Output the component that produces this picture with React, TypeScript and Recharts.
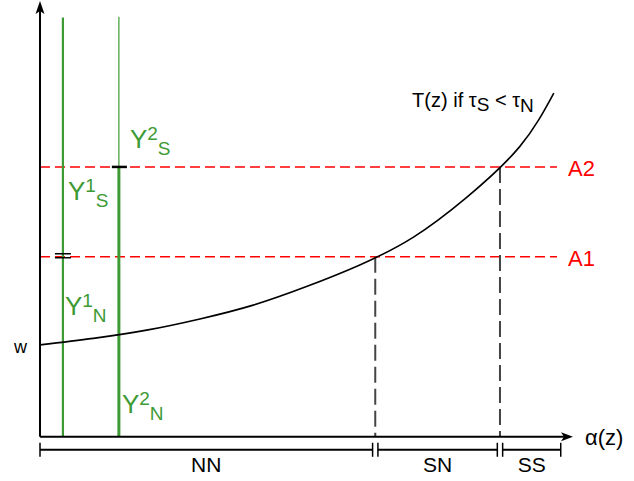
import { ComposedChart, Line, XAxis, YAxis, ReferenceLine, ReferenceDot } from 'recharts';

// T(z) curve sampled along alpha(z)
const curveAlpha = [0, 1, 2, 3, 4, 5, 6, 7, 8, 9, 9.64];
const curveT = [2.13, 2.28, 2.47, 2.73, 3.05, 3.48, 3.98, 4.62, 5.54, 6.72, 7.96];

const wage = 2.13;
const incomeAlpha = [0.43, 1.48]; // Y1, Y2
const incomeTop = 9.71;
const thresholds = [4.17, 6.25]; // A1, A2
const thresholdNames = ['A1', 'A2'];
const cutoffs = [6.29, 8.63]; // where T(z) meets A1 and A2
const regimes = ['NN', 'SN', 'SS'];
const lineEnd = 9.7;
const bracketEnd = 9.77;
const axisEnd = 10;

const curveData = curveAlpha.map((a, i) => ({ a, t: curveT[i] }));

const GREEN = '#3d9a35';
const RED = '#ff0000';
const FONT = '"Liberation Sans", Arial, sans-serif';

const BRACKET_Y = -0.3;
const GAP = 0.05;

const bounds = [0, ...cutoffs, bracketEnd];
const segments = regimes.map((name, i) => ({
    name,
    from: bounds[i] + (i === 0 ? 0 : GAP),
    to: bounds[i + 1] - (i === regimes.length - 1 ? 0 : GAP),
}));
const tickXs = segments.flatMap((s) => [s.from, s.to]);

function text(content: any, dx: number, dy: number, opts: any = {}) {
    return (p: any) => (
        <text
            x={p.cx + dx}
            y={p.cy + dy}
            fontFamily={FONT}
            fontSize={opts.size ?? 20}
            fill={opts.fill ?? '#000'}
            textAnchor={opts.anchor ?? 'start'}
        >
            {content}
        </text>
    );
}

function income(sup: string, sub: string) {
    return (
        <>
            Y
            <tspan fontSize={19} dy={-8}>{sup}</tspan>
            <tspan fontSize={19} dy={15}>{sub}</tspan>
        </>
    );
}

export default function App() {
    return (
        <div style={{ position: 'absolute', left: 0, top: 0, background: '#fff' }}>
            <ComposedChart
                width={634}
                height={481}
                data={curveData}
                margin={{ top: 5, right: 61, bottom: 1, left: 40 }}
            >
                <XAxis type="number" dataKey="a" domain={[0, axisEnd]} hide />
                <YAxis type="number" domain={[-1, 10]} hide />

                {/* red threshold levels */}
                {thresholds.map((v, i) => (
                    <ReferenceLine
                        key={`thr-${i}`}
                        segment={[{ x: 0, y: v }, { x: lineEnd, y: v }]}
                        stroke={RED}
                        strokeWidth={1.5}
                        strokeDasharray="10 5"
                        ifOverflow="visible"
                    />
                ))}

                {/* cutoff drops to the axis */}
                {cutoffs.map((c, i) => (
                    <ReferenceLine
                        key={`cut-${i}`}
                        segment={[{ x: c, y: thresholds[i] }, { x: c, y: 0 }]}
                        stroke="#444"
                        strokeWidth={2}
                        strokeDasharray="16 6"
                        ifOverflow="visible"
                    />
                ))}

                {/* income lines */}
                <ReferenceLine
                    segment={[{ x: incomeAlpha[0], y: 0 }, { x: incomeAlpha[0], y: incomeTop }]}
                    stroke={GREEN}
                    strokeWidth={2.2}
                    ifOverflow="visible"
                />
                <ReferenceLine
                    segment={[{ x: incomeAlpha[1], y: 0 }, { x: incomeAlpha[1], y: thresholds[1] }]}
                    stroke={GREEN}
                    strokeWidth={3}
                    ifOverflow="visible"
                />
                <ReferenceLine
                    segment={[{ x: incomeAlpha[1], y: thresholds[1] }, { x: incomeAlpha[1], y: incomeTop + 0.02 }]}
                    stroke={GREEN}
                    strokeWidth={1.2}
                    ifOverflow="visible"
                />

                {/* small caps where the incomes hit the thresholds */}
                <ReferenceDot
                    x={incomeAlpha[0]}
                    y={thresholds[0]}
                    ifOverflow="visible"
                    shape={(p: any) => (
                        <g stroke="#000" strokeWidth={1.5}>
                            <line x1={p.cx - 8} x2={p.cx + 8} y1={p.cy - 3} y2={p.cy - 3} />
                            <line x1={p.cx - 8} x2={p.cx + 8} y1={p.cy + 1} y2={p.cy + 1} />
                        </g>
                    )}
                />
                <ReferenceDot
                    x={incomeAlpha[1]}
                    y={thresholds[1]}
                    ifOverflow="visible"
                    shape={(p: any) => (
                        <line x1={p.cx - 7} x2={p.cx + 8} y1={p.cy} y2={p.cy} stroke="#000" strokeWidth={2.5} />
                    )}
                />

                {/* axes */}
                <ReferenceLine segment={[{ x: 0, y: 0 }, { x: 0, y: 9.9 }]} stroke="#000" strokeWidth={2} ifOverflow="visible" />
                <ReferenceLine segment={[{ x: 0, y: 0 }, { x: 9.85, y: 0 }]} stroke="#000" strokeWidth={2} ifOverflow="visible" />
                <ReferenceDot
                    x={0}
                    y={10}
                    ifOverflow="visible"
                    shape={(p: any) => (
                        <path
                            d={`M${p.cx},${p.cy - 4} L${p.cx + 4.5},${p.cy + 9} L${p.cx},${p.cy + 6} L${p.cx - 4.5},${p.cy + 9} Z`}
                            fill="#000"
                        />
                    )}
                />
                <ReferenceDot
                    x={axisEnd}
                    y={0}
                    ifOverflow="visible"
                    shape={(p: any) => (
                        <path
                            d={`M${p.cx},${p.cy} L${p.cx - 12},${p.cy - 4.5} L${p.cx - 9},${p.cy} L${p.cx - 12},${p.cy + 4.5} Z`}
                            fill="#000"
                        />
                    )}
                />

                {/* regime bracket */}
                {segments.map((s) => (
                    <ReferenceLine
                        key={`seg-${s.name}`}
                        segment={[{ x: s.from, y: BRACKET_Y }, { x: s.to, y: BRACKET_Y }]}
                        stroke="#000"
                        strokeWidth={2}
                        ifOverflow="visible"
                    />
                ))}
                {tickXs.map((x, i) => (
                    <ReferenceDot
                        key={`tick-${i}`}
                        x={x}
                        y={BRACKET_Y}
                        ifOverflow="visible"
                        shape={(p: any) => (
                            <line x1={p.cx} x2={p.cx} y1={p.cy - 7} y2={p.cy + 7} stroke="#000" strokeWidth={1.5} />
                        )}
                    />
                ))}
                {segments.map((s) => (
                    <ReferenceDot
                        key={`lab-${s.name}`}
                        x={(s.from + s.to) / 2}
                        y={BRACKET_Y}
                        ifOverflow="visible"
                        shape={text(s.name, 0, 22, { size: 21, anchor: 'middle' })}
                    />
                ))}

                <Line
                    type="natural"
                    dataKey="t"
                    stroke="#000"
                    strokeWidth={1.6}
                    dot={false}
                    activeDot={false}
                    isAnimationActive={false}
                />

                {/* labels */}
                <ReferenceDot x={0} y={wage} ifOverflow="visible" shape={text('w', -13, 8, { size: 18, anchor: 'end' })} />
                <ReferenceDot x={axisEnd} y={0} ifOverflow="visible" shape={text('α(z)', 12, 8, { size: 22 })} />
                {thresholds.map((v, i) => (
                    <ReferenceDot
                        key={`tn-${i}`}
                        x={lineEnd}
                        y={v}
                        ifOverflow="visible"
                        shape={text(thresholdNames[i], 11, 9, { size: 22, fill: RED })}
                    />
                ))}
                <ReferenceDot
                    x={curveAlpha[curveAlpha.length - 1]}
                    y={curveT[curveT.length - 1]}
                    ifOverflow="visible"
                    shape={text(
                        <>
                            T(z) if τ<tspan fontSize={19} dy={4}>S</tspan>
                            <tspan dy={-4}> &lt; τ</tspan>
                            <tspan fontSize={19} dy={5}>N</tspan>
                        </>,
                        -20,
                        14,
                        { size: 20, anchor: 'end' }
                    )}
                />
                <ReferenceDot x={incomeAlpha[0]} y={thresholds[0]} ifOverflow="visible" shape={text(income('1', 'S'), 5, -57, { size: 26, fill: GREEN })} />
                <ReferenceDot x={incomeAlpha[0]} y={thresholds[0]} ifOverflow="visible" shape={text(income('1', 'N'), 2, 58, { size: 26, fill: GREEN })} />
                <ReferenceDot x={incomeAlpha[1]} y={thresholds[1]} ifOverflow="visible" shape={text(income('2', 'S'), 11, -19, { size: 26, fill: GREEN })} />
                <ReferenceDot x={incomeAlpha[1]} y={0} ifOverflow="visible" shape={text(income('2', 'N'), 3, -24, { size: 26, fill: GREEN })} />
            </ComposedChart>
        </div>
    );
}
